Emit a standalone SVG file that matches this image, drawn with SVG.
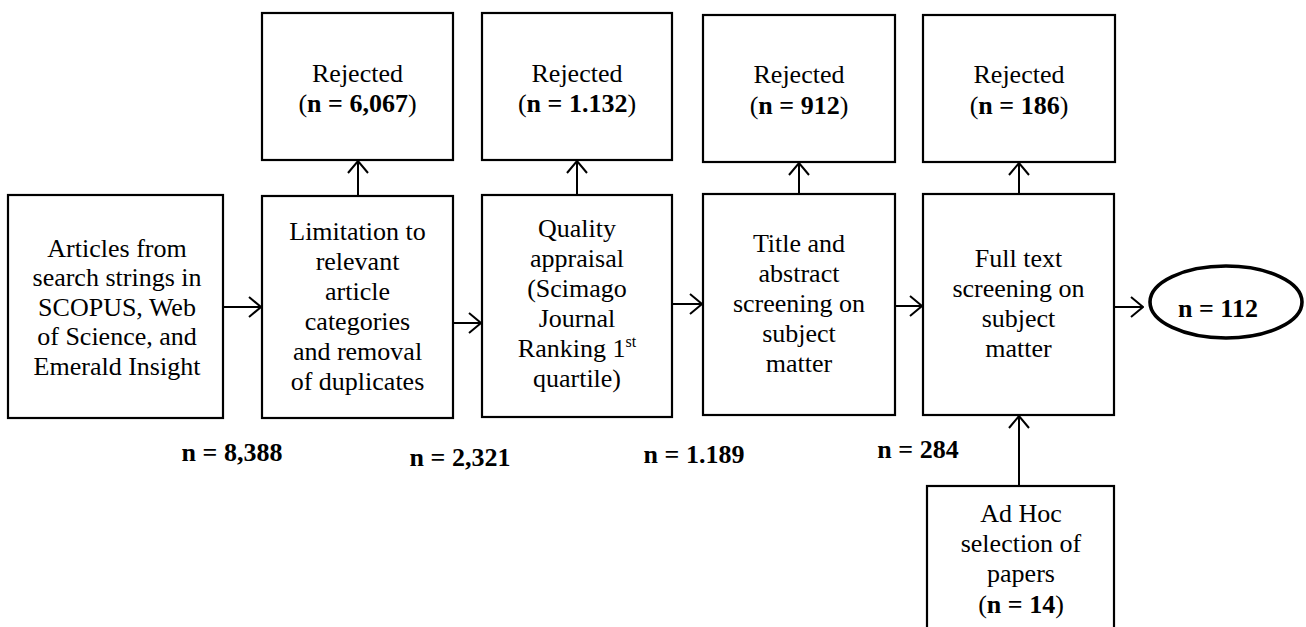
<svg xmlns="http://www.w3.org/2000/svg" width="1306" height="627" viewBox="0 0 1306 627">
  <style>
    .box { fill: #ffffff; stroke: #000000; stroke-width: 2.2; }
    .oval { fill: #ffffff; stroke: #000000; stroke-width: 3.6; }
    .t { font-family: "Liberation Serif", "Times New Roman", serif; font-size: 26px; fill: #000000; text-anchor: middle; }
    .b { font-weight: bold; }
    .link { fill: none; stroke: #000000; stroke-width: 2; marker-end: url(#head); }
  </style>
  <defs>
    <marker id="head" viewBox="0 0 14 22" refX="13" refY="11" markerWidth="14" markerHeight="22" markerUnits="userSpaceOnUse" orient="auto">
      <path d="M1,1 L13,11 L1,21" fill="none" stroke="#000000" stroke-width="2"/>
    </marker>
  </defs>
  <rect width="1306" height="627" fill="#ffffff"/>

  <!-- flow connectors -->
  <g id="connectors">
    <line class="link" x1="223" y1="307" x2="261" y2="307"/>
    <line class="link" x1="453" y1="323" x2="481" y2="323"/>
    <line class="link" x1="672" y1="304" x2="702" y2="304"/>
    <line class="link" x1="895" y1="306" x2="922" y2="306"/>
    <line class="link" x1="1114" y1="307" x2="1143" y2="307"/>
    <line class="link" x1="358" y1="196" x2="358" y2="161"/>
    <line class="link" x1="577" y1="195" x2="577" y2="161"/>
    <line class="link" x1="799" y1="194" x2="799" y2="163"/>
    <line class="link" x1="1019" y1="194" x2="1019" y2="163"/>
    <line class="link" x1="1019" y1="486" x2="1019" y2="416"/>
  </g>

  <g id="sources">
    <rect class="box" x="8" y="195" width="215" height="223"/>
    <text class="t" x="117" y="257">Articles from</text>
    <text class="t" x="117" y="286">search strings in</text>
    <text class="t" x="117" y="316">SCOPUS, Web</text>
    <text class="t" x="117" y="345">of Science, and</text>
    <text class="t" x="117" y="375">Emerald Insight</text>
  </g>

  <g id="limitation">
    <rect class="box" x="262" y="196" width="191" height="222"/>
    <text class="t" x="357.5" y="240">Limitation to</text>
    <text class="t" x="357.5" y="270">relevant</text>
    <text class="t" x="357.5" y="300">article</text>
    <text class="t" x="357.5" y="330">categories</text>
    <text class="t" x="357.5" y="360">and removal</text>
    <text class="t" x="357.5" y="390">of duplicates</text>
  </g>

  <g id="quality">
    <rect class="box" x="482" y="195" width="190" height="222"/>
    <text class="t" x="577" y="237">Quality</text>
    <text class="t" x="577" y="267">appraisal</text>
    <text class="t" x="577" y="297">(Scimago</text>
    <text class="t" x="577" y="327">Journal</text>
    <text class="t" x="577" y="357">Ranking 1<tspan font-size="16" dy="-10">st</tspan></text>
    <text class="t" x="577" y="387">quartile)</text>
  </g>

  <g id="title-abstract">
    <rect class="box" x="703" y="194" width="192" height="221"/>
    <text class="t" x="799" y="252">Title and</text>
    <text class="t" x="799" y="282">abstract</text>
    <text class="t" x="799" y="312">screening on</text>
    <text class="t" x="799" y="342">subject</text>
    <text class="t" x="799" y="372">matter</text>
  </g>

  <g id="full-text">
    <rect class="box" x="923" y="194" width="191" height="221"/>
    <text class="t" x="1018.5" y="267">Full text</text>
    <text class="t" x="1018.5" y="297">screening on</text>
    <text class="t" x="1018.5" y="327">subject</text>
    <text class="t" x="1018.5" y="357">matter</text>
  </g>

  <g id="result">
    <ellipse class="oval" cx="1226" cy="302" rx="76" ry="36"/>
    <text class="t b" x="1218" y="317">n = 112</text>
  </g>

  <g id="rejected-1">
    <rect class="box" x="262" y="13" width="191" height="147"/>
    <text class="t" x="357.5" y="82">Rejected</text>
    <text class="t" x="357.5" y="112">(<tspan class="b">n = 6,067</tspan>)</text>
  </g>

  <g id="rejected-2">
    <rect class="box" x="482" y="13" width="190" height="147"/>
    <text class="t" x="577" y="82">Rejected</text>
    <text class="t" x="577" y="112">(<tspan class="b">n = 1.132</tspan>)</text>
  </g>

  <g id="rejected-3">
    <rect class="box" x="703" y="15" width="192" height="147"/>
    <text class="t" x="799" y="83">Rejected</text>
    <text class="t" x="799" y="114">(<tspan class="b">n = 912</tspan>)</text>
  </g>

  <g id="rejected-4">
    <rect class="box" x="923" y="15" width="192" height="147"/>
    <text class="t" x="1019" y="83">Rejected</text>
    <text class="t" x="1019" y="114">(<tspan class="b">n = 186</tspan>)</text>
  </g>

  <g id="ad-hoc">
    <rect class="box" x="927" y="486" width="187" height="160"/>
    <text class="t" x="1021" y="522">Ad Hoc</text>
    <text class="t" x="1021" y="552">selection of</text>
    <text class="t" x="1021" y="582">papers</text>
    <text class="t" x="1021" y="613">(<tspan class="b">n = 14</tspan>)</text>
  </g>

  <g id="counts">
    <text class="t b" x="232" y="461">n = 8,388</text>
    <text class="t b" x="460" y="466">n = 2,321</text>
    <text class="t b" x="694" y="463">n = 1.189</text>
    <text class="t b" x="918" y="458">n = 284</text>
  </g>
</svg>
